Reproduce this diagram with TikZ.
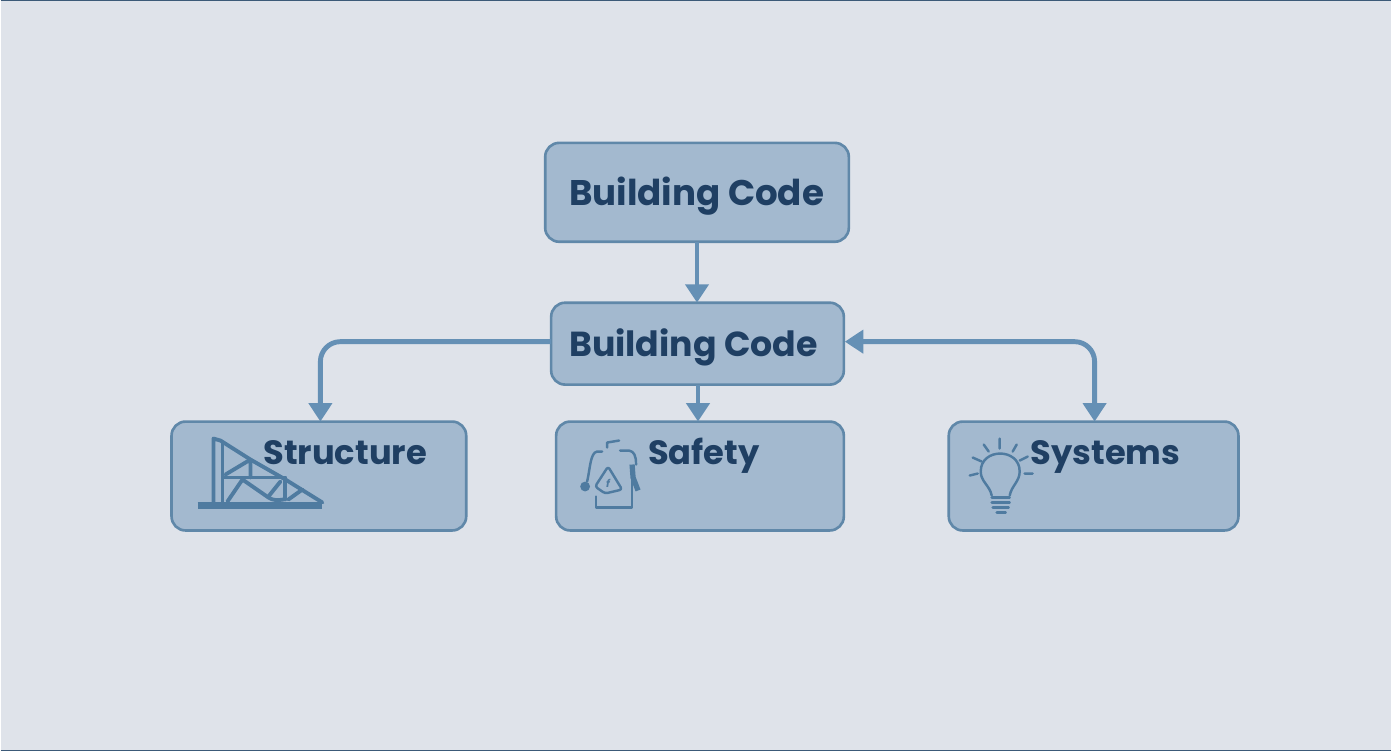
\documentclass[tikz,border=0pt]{standalone}
\usepackage{fontspec}
\setmainfont{Poppins}
\definecolor{bgcol}{HTML}{DFE3EA}
\definecolor{boxfill}{HTML}{A3B9CF}
\definecolor{boxline}{HTML}{6088A9}
\definecolor{arrowcol}{HTML}{6590B5}
\definecolor{textcol}{HTML}{1F3F63}
\definecolor{iconcol}{HTML}{4F7BA0}
\definecolor{edgecol}{HTML}{3C5A78}
\usetikzlibrary{arrows.meta}
\begin{document}
\begin{tikzpicture}[x=0.02cm,y=-0.02cm,inner sep=0pt,outer sep=0pt,
codeblock/.style={draw=boxline,fill=boxfill,rectangle,rounded corners=0.28cm,line width=1.5pt},
blocklabel/.style={text=textcol,font=\bfseries\fontsize{19.2pt}{19.2pt}\selectfont,anchor=base west},
link/.style={draw=arrowcol,line width=2.8pt,rounded corners=0.4cm,-{Triangle[width=13pt,length=10.5pt,sep=0pt]}},
iconline/.style={draw=iconcol,line width=1.4pt,line cap=round,line join=round},
iconthick/.style={draw=iconcol,line width=2.2pt,line cap=round,line join=round}]
\fill[bgcol] (0,0) rectangle (1392,752);
\draw[edgecol,line width=0.5pt] (0,0.5) -- (1392,0.5);
\draw[edgecol,line width=0.8pt] (0,751.5) -- (1392,751.5);
% boxes
\draw (697,192.5) node[codeblock,minimum width=6.08cm,minimum height=1.98cm] (code) {};
\draw (697.5,344) node[codeblock,minimum width=5.86cm,minimum height=1.64cm] (sub) {};
\draw (318.5,476.5) node[codeblock,minimum width=5.9cm,minimum height=2.18cm] (struct) {};
\draw (700,476.5) node[codeblock,minimum width=5.76cm,minimum height=2.18cm] (safe) {};
\draw (1094,476.5) node[codeblock,minimum width=5.8cm,minimum height=2.18cm] (sys) {};
% arrow ends
\coordinate (subtop) at (697,303);
\coordinate (subleft) at (551,342);
\coordinate (subright) at (845,342);
\coordinate (structtop) at (320,422);
\coordinate (safetop) at (698,422);
\coordinate (subbottom) at (698,385);
\coordinate (systop) at (1095,422);
% arrows
\draw[link] (code.south) -- (subtop);
\draw[link] (subleft) -| (structtop);
\draw[link] (subbottom) -- (safetop);
\draw[link,{Triangle[width=13pt,length=10.5pt,sep=0pt]}-{Triangle[width=13pt,length=10.5pt,sep=0pt]}] (subright) -| (systop);
% labels
\draw (569,206) node[blocklabel,font=\bfseries\fontsize{20.3pt}{20.3pt}\selectfont] (codetxt) {Building Code};
\draw (569,357) node[blocklabel,font=\bfseries\fontsize{19.8pt}{19.8pt}\selectfont] (subtxt) {Building Code};
\draw (263,465) node[blocklabel] (structtxt) {Structure};
\draw (648,465) node[blocklabel] (safetxt) {Safety};
\draw (1031,465) node[blocklabel] (systxt) {Systems};
% truss icon
\draw[iconcol,line width=4pt] (197,506) -- (322,506);
\draw[iconthick] (213,504) -- (213,439) -- (220,441) -- (250,460) -- (285,480) -- (322,503);
\draw[iconthick] (222,443) -- (222,503);
\draw[iconthick] (225,475) -- (250,460) -- (250,478);
\draw[iconthick] (223,478) -- (285,478) -- (285,500);
\draw[iconthick] (227,502) -- (242,480) -- (268,498) .. controls (272,501) and (278,501) .. (283,500);
\draw[iconthick] (268,497) -- (280,482) (288,500) -- (302,490);
% extinguisher icon
\draw[iconline] (607,448) -- (607,443) -- (619,441);
\draw[iconline] (602,452) -- (597,452) .. controls (590,453) and (590,470) .. (587,482);
\fill[iconcol] (585,487) circle (2.8pt);
\draw[iconline] (620,451) -- (629,451) .. controls (634,452) and (636,456) .. (636,465);
\draw[iconcol,line width=3pt] (632,465) -- (633,478) -- (638,491);
\draw[iconline] (632,478) -- (632,508) -- (596,508) -- (596,497);
\draw[iconline,rounded corners=1.5pt] (608,467) -- (595,487) -- (605,494) -- (622,490) -- cycle;
\node[text=iconcol,font=\itshape\bfseries\fontsize{6pt}{6pt}\selectfont] (firemark) at (608,484) {f};
% bulb icon
\draw[iconline] (992,496) .. controls (990,486) and (981,482) .. (981,472) .. controls (981,448) and (1020,448) .. (1020,472) .. controls (1020,482) and (1012,486) .. (1010,496);
\draw[iconline] (992,498) -- (1010,498) (992,503) -- (1010,503) (993,508) -- (1009,508) (997,513) -- (1006,513);
\draw[iconline] (1000,439) -- (1000,449) (984,445) -- (989,452) (1017,445) -- (1013,452) (973,458) -- (982,462) (1028,457) -- (1020,461) (970,476) -- (978,474) (1025,474) -- (1033,474);
\end{tikzpicture}
\end{document}
